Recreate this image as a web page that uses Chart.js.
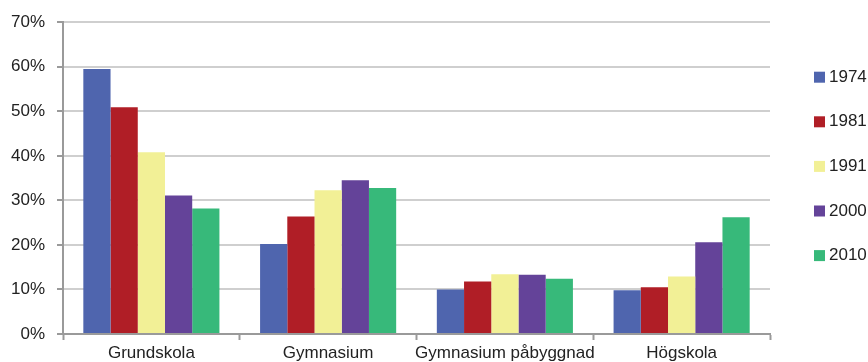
<!DOCTYPE html>
<html>
<head>
<meta charset="utf-8">
<script src="https://cdn.jsdelivr.net/npm/chart.js@4/dist/chart.umd.min.js"></script>
<style>
  html, body { margin: 0; padding: 0; background: #fff; }
  #wrap { width: 868px; height: 362px; }
</style>
</head>
<body>
<div id="wrap"><canvas id="c" width="868" height="362"></canvas></div>
<script>
// Education level categories
const categories = ['Grundskola', 'Gymnasium', 'Gymnasium påbyggnad', 'Högskola'];
// Survey years
const years = ['1974', '1981', '1991', '2000', '2010'];
// Share (%) per year, one value per category
const v1974 = [59.5, 20.2, 10.0, 9.8];
const v1981 = [50.9, 26.4, 11.8, 10.5];
const v1991 = [40.8, 32.3, 13.4, 12.9];
const v2000 = [31.1, 34.5, 13.3, 20.6];
const v2010 = [28.2, 32.8, 12.4, 26.2];
const seriesValues = [v1974, v1981, v1991, v2000, v2010];
// Y axis ticks
const yTicks = [0, 10, 20, 30, 40, 50, 60, 70];

const colors = ['#4f65ae', '#b01e26', '#f2f096', '#644399', '#37b97a'];
const FONT = '"Liberation Sans", Arial, sans-serif';

// Legend drawn to the right of the plot, one row per year
const sideLegend = {
  id: 'sideLegend',
  afterDraw(chart) {
    const ctx = chart.ctx;
    const area = chart.chartArea;
    const x0 = area.right + 44;
    const yStart = area.top + 55;
    const step = 44.6;
    ctx.save();
    ctx.font = '17px ' + FONT;
    ctx.textBaseline = 'middle';
    ctx.textAlign = 'left';
    chart.data.datasets.forEach((ds, i) => {
      const y = yStart + i * step;
      ctx.fillStyle = ds.backgroundColor;
      ctx.fillRect(x0, y - 5.5, 11, 11);
      ctx.fillStyle = '#222';
      ctx.fillText(ds.label, x0 + 15, y);
    });
    ctx.restore();
  }
};

new Chart(document.getElementById('c'), {
  type: 'bar',
  data: {
    labels: categories,
    datasets: years.map((y, i) => ({
      label: y,
      data: seriesValues[i],
      backgroundColor: colors[i],
      borderWidth: 0,
      categoryPercentage: 0.77,
      barPercentage: 1.0
    }))
  },
  options: {
    responsive: false,
    animation: false,
    devicePixelRatio: 1,
    layout: { padding: { top: 20, right: 98, bottom: 0, left: 0 } },
    plugins: {
      legend: { display: false },
      tooltip: { enabled: false }
    },
    scales: {
      x: {
        afterFit: s => { s.height = 28; },
        grid: {
          offset: true,
          drawOnChartArea: false,
          drawTicks: true,
          tickLength: 6,
          tickColor: '#9a9a9a',
          tickWidth: 2
        },
        border: { color: '#9a9a9a', width: 2 },
        ticks: {
          color: '#222',
          font: { family: FONT, size: 17 },
          padding: 3,
          maxRotation: 0,
          autoSkip: false
        }
      },
      y: {
        min: 0,
        max: 70,
        afterFit: s => { s.width = 63; },
        afterBuildTicks: s => { s.ticks = yTicks.map(v => ({ value: v })); },
        grid: {
          color: '#cfcfcf',
          lineWidth: 2,
          drawTicks: true,
          tickLength: 6,
          tickColor: '#9a9a9a',
          tickWidth: 2
        },
        border: { color: '#9a9a9a', width: 2 },
        ticks: {
          color: '#222',
          font: { family: FONT, size: 17 },
          padding: 12,
          callback: v => v + '%'
        }
      }
    }
  },
  plugins: [sideLegend]
});
</script>
</body>
</html>
